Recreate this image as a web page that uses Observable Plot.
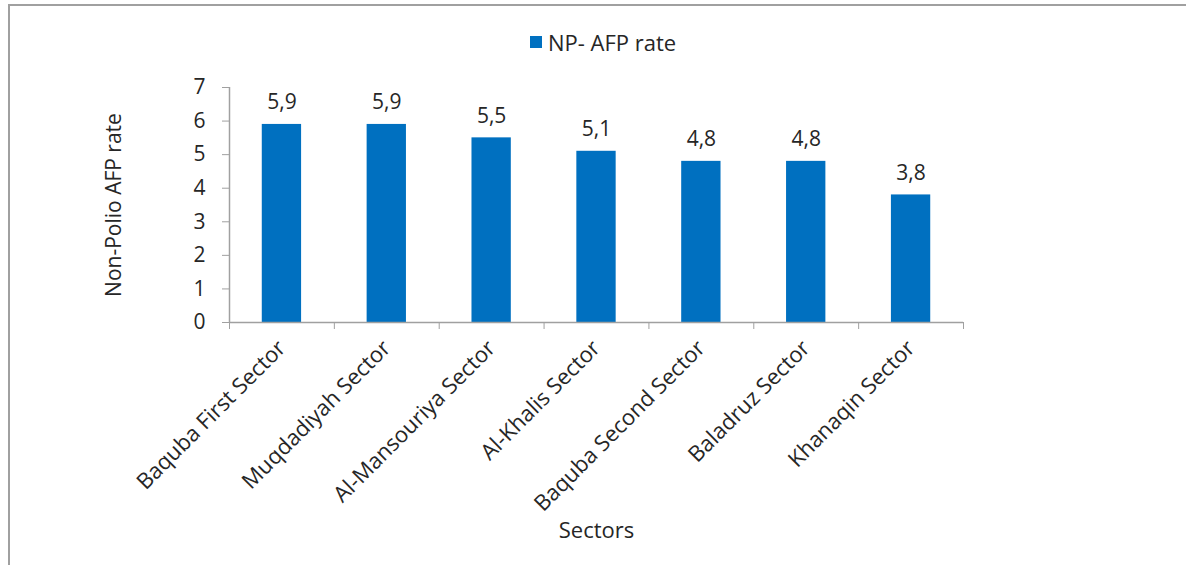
<!DOCTYPE html>
<html><head><meta charset="utf-8">
<script src="https://cdn.jsdelivr.net/npm/d3@7"></script>
<script src="https://cdn.jsdelivr.net/npm/@observablehq/plot@0.6"></script>
<style>
body{margin:0;background:#fff;font-family:"Open Sans",sans-serif;color:#262626;}
#frame{position:absolute;left:8px;top:4px;width:1178px;height:561px;border-left:2px solid #a0a0a0;border-top:2px solid #a0a0a0;overflow:hidden;}
#legend{height:64px;box-sizing:border-box;padding-top:24px;padding-bottom:16px;display:flex;justify-content:center;align-items:center;font-size:22px;line-height:24px;}
#legend .sw{width:12px;height:12px;background:#0070C0;margin-right:6px;margin-left:8px;}
#chart svg{display:block;}
</style></head>
<body>
<div id="frame">
  <div id="legend"><span class="sw"></span><span id="legtext"></span></div>
  <div id="chart"></div>
</div>
<script>
const categories = ["Baquba First Sector","Muqdadiyah Sector","Al-Mansouriya Sector","Al-Khalis Sector","Baquba Second Sector","Baladruz Sector","Khanaqin Sector"];
const rates = [5.9, 5.9, 5.5, 5.1, 4.8, 4.8, 3.8];
const yTicks = [0,1,2,3,4,5,6,7];
const seriesName = "NP- AFP rate";
const yLabel = "Non-Polio AFP rate";
const xLabel = "Sectors";

document.getElementById("legtext").textContent = seriesName;

const data = categories.map((c,i) => ({sector: c, rate: rates[i]}));
const width = 1176, height = 495;
const ml = 219, mr = 223, mt = 17, mb = 243;
const step = (width - ml - mr) / categories.length;
const fmt = v => v.toFixed(1).replace(".", ",");
const axisGray = "#a0a0a0";
const textCol = "#262626";

const chart = Plot.plot({
  width, height,
  marginLeft: ml, marginRight: mr, marginTop: mt, marginBottom: mb,
  style: {fontFamily: "'Open Sans', sans-serif", background: "#fff", color: textCol},
  x: {domain: categories, paddingInner: 0.625, paddingOuter: 0.3125, round: false},
  y: {domain: [0, 7]},
  marks: [
    Plot.barY(data, {x: "sector", y: "rate", fill: "#0070C0"}),
    Plot.text(data, {x: "sector", y: "rate", text: d => fmt(d.rate), dy: -22, fontSize: 21, fill: textCol}),
    Plot.ruleY([0], {stroke: axisGray, strokeWidth: 1.5}),
    Plot.ruleX([categories[0]], {dx: -step/2, stroke: axisGray, strokeWidth: 1.5}),
    Plot.axisY({ticks: yTicks, tickFormat: "d", tickSize: 7, tickPadding: 17, fontSize: 21, stroke: axisGray, fill: textCol,
      label: yLabel, labelAnchor: "center", labelArrow: "none", labelOffset: 123}),
    Plot.axisX({tickSize: 0, tickRotate: -45, tickPadding: 22, fontSize: 22, fill: textCol,
      label: xLabel, labelAnchor: "center", labelArrow: "none", labelOffset: 215}),
    Plot.axisX(categories, {tickSize: 7, dx: -step/2, tickFormat: () => "", stroke: axisGray, label: null}),
    Plot.axisX([categories[categories.length-1]], {tickSize: 7, dx: step/2, tickFormat: () => "", stroke: axisGray, label: null})
  ]
});
document.getElementById("chart").appendChild(chart);
</script>
</body></html>
